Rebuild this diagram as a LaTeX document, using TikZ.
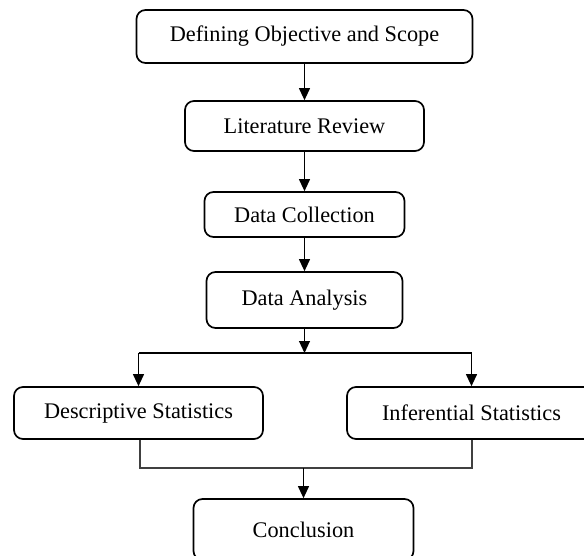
\documentclass[tikz,border=0pt]{standalone}
\usepackage{fontspec}
\setmainfont{Liberation Serif}
\usetikzlibrary{arrows.meta,shapes}
\tikzstyle{block}=[draw,rounded corners=9pt,line width=1.7pt,inner sep=0pt,font=\fontsize{22.3}{26}\selectfont]
\tikzstyle{link} = [draw,line width=1.1pt,-]
\tikzstyle{flow} = [link,-{Triangle[length=12pt,width=11pt]}]

\begin{document}
\begin{tikzpicture}[x=1pt,y=-1pt]
    \useasboundingbox (0,0) rectangle (584,556);
    % Draw the research steps
    % First we draw the blocks
    \foreach \pos/\name/\bw/\bh/\txt in {{(304.5,36.5)/obj/336/53/Defining Objective and Scope}, {(304.5,126)/lit/239/50/Literature Review}, {(304.5,214.5)/col/200/45/Data Collection}, {(304.5,300)/ana/196/56/Data Analysis}, {(138.5,413)/desc/249/52/Descriptive Statistics}, {(471.5,413)/inf/249/52/Inferential Statistics}, {(303.5,529.5)/con/220/61/Conclusion}}
        \node[block,minimum width=\bw pt,minimum height=\bh pt] (\name) at \pos {\txt};

    % Points where the flow splits and joins
    \coordinate (fork) at (304.5,353);
    \coordinate (forkL) at (desc.north |- fork);
    \coordinate (forkR) at (inf.north |- fork);
    \coordinate (joinL) at (140,468);
    \coordinate (joinR) at (472,468);
    \coordinate (join) at (con.north |- joinL);

    % Connect blocks with arrows
    \foreach \source/ \dest in {obj/lit, lit/col, col/ana}
        \path[flow] (\source.south) -- (\dest.north);
    \path[flow] (ana.south) -- (fork);
    \path[link] (forkL) -- (forkR);
    \path[flow] (forkL) -- (desc.north);
    \path[flow] (forkR) -- (inf.north);
    \path[link,draw=black!75] (joinL |- desc.south) -- (joinL) -- (joinR) -- (joinR |- inf.south);
    \path[flow] (join) -- (con.north);
\end{tikzpicture}
\end{document}
